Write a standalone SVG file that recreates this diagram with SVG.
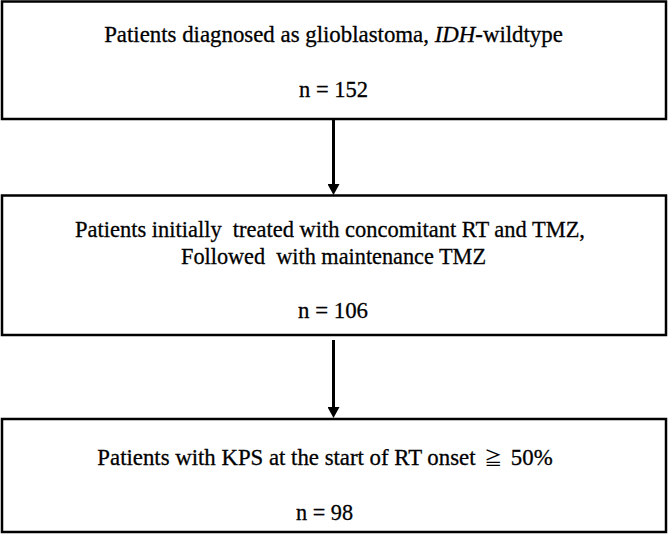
<svg xmlns="http://www.w3.org/2000/svg" width="669" height="534" viewBox="0 0 669 534">
<style>
.box{fill:#fff;stroke:#000;stroke-width:2.5}
.t{font-family:"Liberation Serif","Times New Roman",serif;font-size:24px;fill:#000;stroke:#000;stroke-width:0.3;text-anchor:middle}
.sym{font-family:"Noto Sans CJK JP","Noto Sans CJK SC",sans-serif;font-size:18px;stroke-width:0}
.conn{stroke:#000;stroke-width:3;fill:none}
</style>
<defs>
<marker id="ah" viewBox="0 -6 11 12" refX="0" refY="0" markerWidth="11" markerHeight="12" markerUnits="userSpaceOnUse" orient="auto">
<path d="M0,-6 L11,0 L0,6 Z" fill="#000"/>
</marker>
</defs>
<rect width="669" height="534" fill="#fff"/>
<g id="connectors">
<line class="conn" x1="333.5" y1="120" x2="333.5" y2="184" marker-end="url(#ah)"/>
<line class="conn" x1="333.5" y1="340" x2="333.5" y2="407" marker-end="url(#ah)"/>
</g>
<g id="node1">
<rect class="box" x="2" y="1.5" width="664" height="117.5"/>
<text class="t" x="333.5" y="42" style="font-size:22.85px">Patients diagnosed as glioblastoma, <tspan font-style="italic">IDH</tspan>-wildtype</text>
<text class="t" x="333.5" y="97" textLength="69" lengthAdjust="spacingAndGlyphs">n = 152</text>
</g>
<g id="node2">
<rect class="box" x="2" y="195.5" width="664" height="139.5"/>
<text class="t" x="330" y="237" textLength="510" lengthAdjust="spacingAndGlyphs" xml:space="preserve">Patients initially  treated with concomitant RT and TMZ,</text>
<text class="t" x="333.5" y="264" textLength="305" lengthAdjust="spacingAndGlyphs" xml:space="preserve">Followed  with maintenance TMZ</text>
<text class="t" x="333" y="318" textLength="70" lengthAdjust="spacingAndGlyphs">n = 106</text>
</g>
<g id="node3">
<rect class="box" x="2" y="419" width="664" height="113"/>
<text class="t" x="325" y="465" style="font-size:22.8px">Patients with KPS at the start of RT onset <tspan class="sym" dx="3">≧</tspan><tspan dx="3"> 50%</tspan></text>
<text class="t" x="324.5" y="520" textLength="57" lengthAdjust="spacingAndGlyphs">n = 98</text>
</g>
</svg>
